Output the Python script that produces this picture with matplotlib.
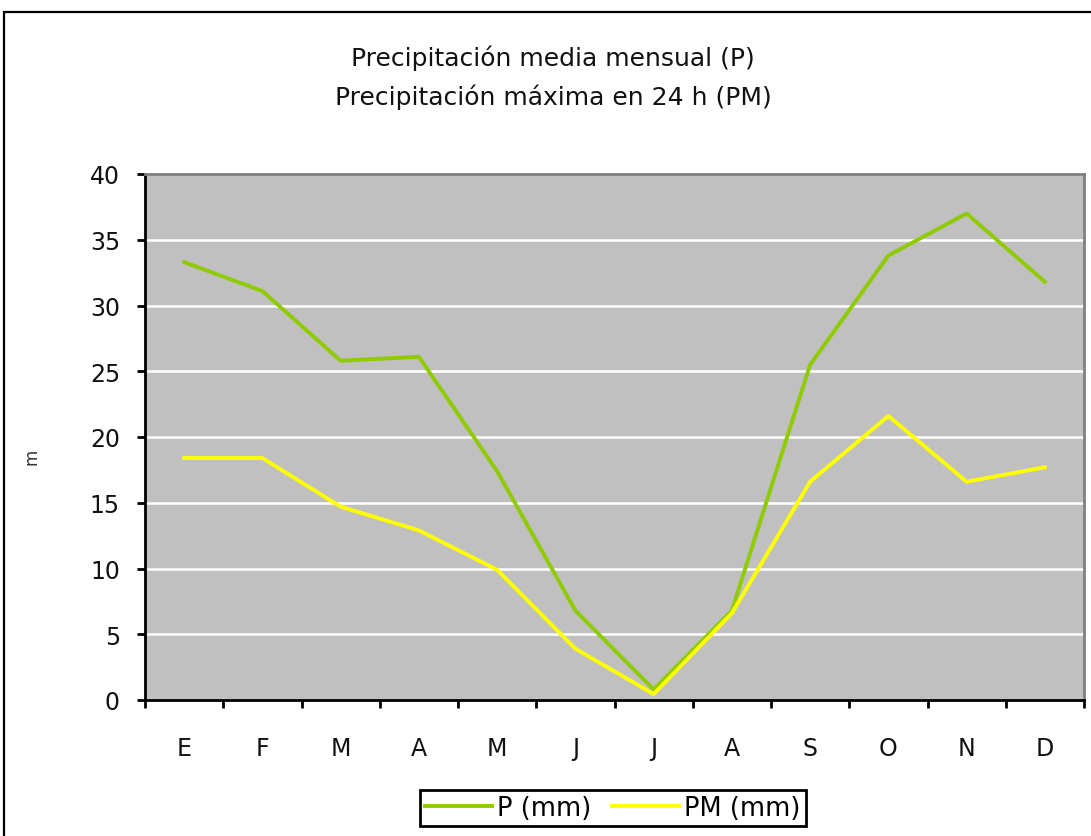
import matplotlib
matplotlib.use("Agg")
import matplotlib.pyplot as plt
from matplotlib.patches import Rectangle

# monthly data (mm)
months = ['E', 'F', 'M', 'A', 'M', 'J', 'J', 'A', 'S', 'O', 'N', 'D']
p_mm = [33.3, 31.1, 25.8, 26.1, 17.4, 6.8, 0.8, 6.8, 25.5, 33.8, 37.0, 31.8]
pm_mm = [18.4, 18.4, 14.7, 12.9, 9.9, 3.9, 0.45, 6.6, 16.6, 21.6, 16.6, 17.7]
title_lines = ['Precipitación media mensual (P)', 'Precipitación máxima en 24 h (PM)']

plt.rcParams['font.family'] = ['DejaVu Sans']
fs = 17

fig = plt.figure(figsize=(10.91, 8.37), dpi=100)
fig.patch.set_facecolor('white')
# outer frame of the chart area (cut off at right and bottom)
fig.patches.append(Rectangle((4/1091, -0.05), 1.2, (1 - 13/837) + 0.05,
                             transform=fig.transFigure, fill=False,
                             edgecolor='black', linewidth=1.6))

ax = fig.add_axes([145/1091, 1 - 701/837, 939/1091, 526/837])
ax.set_facecolor('#c0c0c0')
x = list(range(len(months)))
ax.plot(x, p_mm, color='#8fcb00', linewidth=2.8, label='P (mm)')
ax.plot(x, pm_mm, color='#ffff00', linewidth=2.8, label='PM (mm)')

ax.set_xlim(-0.5, len(months) - 0.5)
ax.set_ylim(0, 40)
ax.set_yticks(range(0, 41, 5))
for v in range(5, 40, 5):
    ax.axhline(v, color='white', linewidth=1.8, zorder=0.5)

ax.set_xticks(x)
ax.set_xticklabels(months)
ax.set_xticks([i - 0.5 for i in range(len(months) + 1)], minor=True)
ax.tick_params(axis='x', which='major', length=0, pad=26, labelsize=fs, colors='#111111')
ax.tick_params(axis='x', which='minor', length=6, width=2, direction='out', color='black')
ax.tick_params(axis='y', length=6, width=2, pad=12, labelsize=fs, colors='#111111')
ax.tick_params(axis='y', color='black')

for s in ['left', 'bottom']:
    ax.spines[s].set_color('black')
    ax.spines[s].set_linewidth(2)
ax.spines['top'].set_color('#808080')
ax.spines['right'].set_color('#808080')
ax.spines['top'].set_linewidth(2)
ax.spines['right'].set_linewidth(2)

# tiny y-axis label
fig.text(31/1091, 1 - 457/837, 'm', rotation=90, ha='center', va='center',
         fontsize=12, color='#333333')

fig.text(553/1091, 1 - 58/837, title_lines[0], ha='center', va='center', fontsize=18, color='#111111')
fig.text(553/1091, 1 - 97/837, title_lines[1], ha='center', va='center', fontsize=18, color='#111111')

leg = ax.legend(loc='center', bbox_to_anchor=(613/1091, 1 - 809/837), bbox_transform=fig.transFigure,
                ncol=2, fontsize=18.5, frameon=True, fancybox=False, framealpha=1,
                handlelength=2.6, handletextpad=0.2, columnspacing=0.8, borderpad=0.2)
leg.get_frame().set_edgecolor('black')
leg.get_frame().set_linewidth(2)

fig.savefig('out.png', dpi=100)
